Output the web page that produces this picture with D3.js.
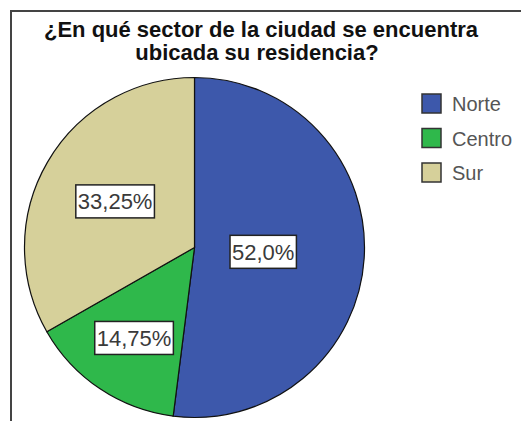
<!DOCTYPE html>
<html>
<head>
<meta charset="utf-8">
<script src="https://cdn.jsdelivr.net/npm/d3@7"></script>
<style>
  body { margin: 0; background: #fff; }
  svg { display: block; font-family: "Liberation Sans", Arial, sans-serif; }
</style>
</head>
<body>
<div class="chart"></div>
<script>
var categories = ["Norte", "Centro", "Sur"];
var values = [52.0, 14.75, 33.25];
var labels = ["52,0%", "14,75%", "33,25%"];
var colors = ["#3d58ab", "#2fb84b", "#d6d09a"];
// how far out each percentage box sits, as a share of the radius
var labelRadius = [0.405, 0.64, 0.54];

var svgWidth = 521;
var svgHeight = 421;

var svg = d3.select(".chart")
  .append("svg")
  .attr("width", svgWidth)
  .attr("height", svgHeight);

// frame (only top and left edges visible in the crop)
svg.append("path")
  .attr("d", "M11,421 V11 H521")
  .attr("fill", "none")
  .attr("stroke", "#444")
  .attr("stroke-width", 2);

// title
var title = svg.append("text")
  .attr("text-anchor", "middle")
  .style("font-size", "22px")
  .style("font-weight", "bold")
  .attr("fill", "#111");
title.append("tspan").attr("x", 261).attr("y", 37).text("¿En qué sector de la ciudad se encuentra");
title.append("tspan").attr("x", 257).attr("y", 60).text("ubicada su residencia?");

var cx = 194.5, cy = 247.5, radius = 170;

var pie = d3.pie().sort(null).value(function(d) { return d; });
var arc = d3.arc().innerRadius(0).outerRadius(radius);
var arcs = pie(values);

var chart = svg.append("g")
  .attr("transform", "translate(" + cx + "," + cy + ")");

chart.selectAll("path.slice")
  .data(arcs)
  .enter()
  .append("path")
  .attr("class", "slice")
  .attr("d", arc)
  .attr("fill", function(d, i) { return colors[i]; })
  .attr("stroke", "#111")
  .attr("stroke-width", 1.2);

// percentage boxes
var lbl = chart.selectAll("g.lbl")
  .data(arcs)
  .enter()
  .append("g")
  .attr("class", "lbl")
  .attr("transform", function(d, i) {
    var r = radius * labelRadius[i];
    var a = (d.startAngle + d.endAngle) / 2;
    return "translate(" + (Math.sin(a) * r) + "," + (-Math.cos(a) * r) + ")";
  });

lbl.append("text")
  .attr("text-anchor", "middle")
  .attr("y", 8)
  .style("font-size", "22px")
  .attr("fill", "#3a3a3a")
  .text(function(d, i) { return labels[i]; });

lbl.each(function() {
  var g = d3.select(this);
  var bb = g.select("text").node().getBBox();
  g.insert("rect", "text")
    .attr("x", bb.x - 2)
    .attr("y", -16.5)
    .attr("width", bb.width + 4)
    .attr("height", 33)
    .attr("fill", "#fff")
    .attr("stroke", "#222")
    .attr("stroke-width", 1.5);
});

// legend
var legend = svg.selectAll("g.legend")
  .data(categories)
  .enter()
  .append("g")
  .attr("class", "legend")
  .attr("transform", function(d, i) { return "translate(422," + (94 + i * 34.5) + ")"; });

legend.append("rect")
  .attr("width", 19)
  .attr("height", 19)
  .attr("fill", function(d, i) { return colors[i]; })
  .attr("stroke", "#333")
  .attr("stroke-width", 1.5);

legend.append("text")
  .attr("x", 30)
  .attr("y", 17)
  .style("font-size", "20px")
  .attr("fill", "#555")
  .text(function(d) { return d; });
</script>
</body>
</html>
